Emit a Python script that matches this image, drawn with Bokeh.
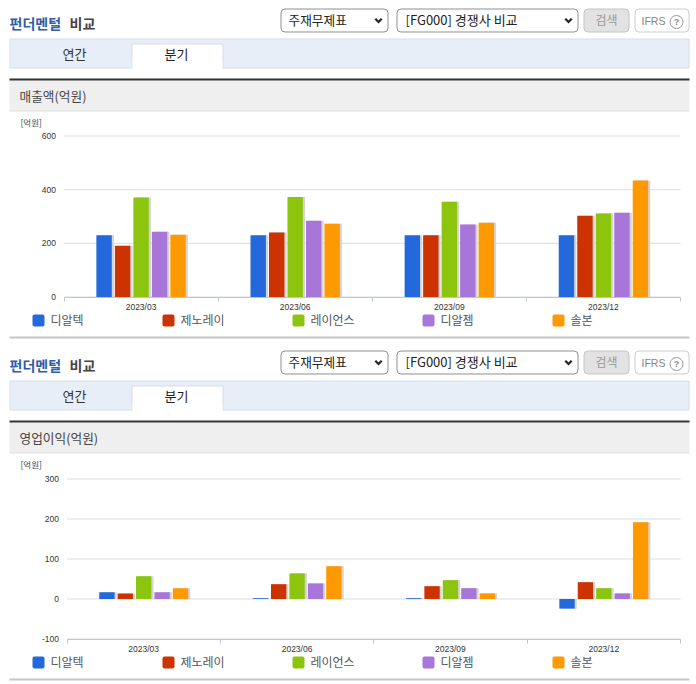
from bokeh.plotting import figure
from bokeh.layouts import column
from bokeh.models import (BoxAnnotation, ColumnDataSource, FixedTicker, Label,
                          LinearAxis, PolyAnnotation, Range1d)
from bokeh.transform import dodge
from bokeh.embed import file_html
from bokeh.resources import INLINE

quarters = ["2023/03", "2023/06", "2023/09", "2023/12"]
companies = ["디알텍", "제노레이", "레이언스", "디알젬", "솔본"]
colors = ["#2469dc", "#cc3300", "#8cc40e", "#a876d8", "#ff9900"]

sales_dialtek = [230, 230, 230, 230]
sales_genoray = [191, 240, 230, 303]
sales_rayence = [371, 373, 355, 311]
sales_drgem = [243, 284, 270, 314]
sales_solborn = [232, 273, 277, 434]

profit_dialtek = [17, 2, 2, -24]
profit_genoray = [14, 37, 32, 42]
profit_rayence = [57, 64, 47, 27]
profit_drgem = [17, 39, 27, 14]
profit_solborn = [27, 82, 14, 192]

sales_ticks = [0, 200, 400, 600]
profit_ticks = [-100, 0, 100, 200, 300]

KR = "Noto Sans CJK KR"
LAT = "Liberation Sans"
BAR_STEP = 0.12
BAR_WIDTH = 0.1
WIDTH = 690


def text(p, x, y, s, size, color="#444444", font=KR, align="left", style="normal"):
    dy = 1 if font == KR else 0
    p.add_layout(Label(x=x, y=y - dy, x_units="canvas", y_units="canvas", text=s,
                       text_font=font, text_font_size=f"{size}px", text_color=color,
                       text_align=align, text_baseline="middle", text_font_style=style))


def box(p, x0, y0, x1, y1, fill=None, line=None, radius=0):
    p.add_layout(BoxAnnotation(left=x0, right=x1, top=y0, bottom=y1,
                               left_units="canvas", right_units="canvas",
                               top_units="canvas", bottom_units="canvas",
                               fill_color=fill, fill_alpha=1 if fill else 0,
                               line_color=line, line_alpha=1 if line else 0, line_width=1,
                               border_radius=radius, level="underlay"))


def chevron(p, x, y):
    xs = [x, x + 1.6, x + 4, x + 6.4, x + 8, x + 4]
    ys = [y + 1.6, y, y + 2.6, y, y + 1.6, y + 5.6]
    p.add_layout(PolyAnnotation(xs=xs, ys=ys, xs_units="canvas", ys_units="canvas",
                                fill_color="#222222", fill_alpha=1, line_alpha=0))


def chrome(p, heading):
    text(p, 9, 23, "펀더멘털", 14, "#2f5cab", style="bold")
    text(p, 69, 23, "비교", 14, "#444444", style="bold")
    box(p, 280.5, 8.5, 387.5, 31.5, "#ffffff", "#8f8f8f", 4)
    text(p, 288, 20, "주재무제표", 12.7, "#222222")
    chevron(p, 374, 17.5)
    box(p, 396.5, 8.5, 577.5, 31.5, "#ffffff", "#8f8f8f", 4)
    text(p, 405, 20, "[FG000] 경쟁사 비교", 13, "#222222")
    chevron(p, 564, 17.5)
    box(p, 583.5, 8.5, 628.5, 31.5, "#e2e2e2", "#c4c4c4", 4)
    text(p, 606, 19.5, "검색", 12, "#999999", align="center")
    box(p, 634.5, 8.5, 688.5, 31.5, "#ffffff", "#cccccc", 4)
    text(p, 641, 20, "IFRS", 10.5, "#888888", font=LAT)
    box(p, 669.5, 15, 682.5, 28, "#ffffff", "#999999", 7)
    text(p, 676, 21.5, "?", 9, "#888888", font=LAT, align="center", style="bold")

    box(p, 9.5, 38.5, 688.5, 67.5, "#e8eef8", "#d5deea")
    box(p, 131.5, 43.5, 222.5, 67.9, "#ffffff", "#d5deea")
    box(p, 132, 60, 222, 68.5, "#ffffff", None)
    text(p, 74, 54, "연간", 13, "#333333", align="center")
    text(p, 176, 54, "분기", 13, "#222222", align="center")

    box(p, 9, 80, 689, 110.5, "#efefef", None)
    box(p, 9, 110, 689, 111, "#e0e0e0", None)
    box(p, 9, 78, 689, 80, "#333333", None)
    text(p, 19, 95.5, heading, 12.7, "#444444")
    text(p, 20, 122.5, "[억원]", 8.5, "#444444")

    for i, name in enumerate(companies):
        x = 32 + 130 * i
        box(p, x, 314, x + 12, 326, colors[i], None, 2)
        text(p, x + 18, 320, name, 12, "#555555")
    box(p, 9, 336, 689, 338, "#c6c6c6", None)


def chart(series, ticks, height, plot_top, plot_bottom, plot_left, plot_right, heading):
    n = len(quarters)
    ymin, ymax = min(ticks), max(ticks)
    per_y = (ymax - ymin) / (plot_bottom - plot_top)
    per_x = n / (plot_right - plot_left)
    centres = [i + 0.5 for i in range(n)]
    data = {"x": centres}
    data.update({f"s{i}": v for i, v in enumerate(series)})
    source = ColumnDataSource(data)

    # The frame fills the whole canvas so that the surrounding page furniture is not clipped;
    # the ranges are chosen so that the chart proper lands in its place inside it.
    p = figure(x_range=Range1d(-plot_left * per_x, n + (WIDTH - plot_right) * per_x),
               y_range=Range1d(ymin - (height - plot_bottom) * per_y, ymax + plot_top * per_y),
               width=WIDTH, height=height, output_backend="svg", toolbar_location=None,
               x_axis_location=None, y_axis_location=None,
               min_border_left=0, min_border_right=0, min_border_top=0, min_border_bottom=0,
               outline_line_color=None, background_fill_color="#ffffff",
               border_fill_color="#ffffff")
    p.grid.visible = False
    chrome(p, heading)

    p.segment(x0=[0] * len(ticks), x1=[n] * len(ticks), y0=ticks, y1=ticks,
              line_color="#d9dde3", line_width=1)
    for i in range(len(series)):
        off = (i - 2) * BAR_STEP
        p.vbar(x=dodge("x", off + 0.014), top=f"s{i}", bottom=0,
               width=BAR_WIDTH, source=source, fill_color="#d4d4d4", line_color=None)
        p.vbar(x=dodge("x", off), top=f"s{i}", bottom=0,
               width=BAR_WIDTH, source=source, fill_color=colors[i], line_color=None)

    y_axis = LinearAxis(fixed_location=0, ticker=FixedTicker(ticks=ticks),
                        major_label_overrides={t: str(t) for t in ticks},
                        axis_line_color=None, major_tick_line_color=None,
                        minor_tick_line_color=None, major_tick_in=0, major_tick_out=0,
                        major_label_standoff=8, major_label_text_font=LAT,
                        major_label_text_font_size="8.5px", major_label_text_color="#333333")
    p.add_layout(y_axis, "left")

    x_axis = LinearAxis(fixed_location=ymin, ticker=FixedTicker(ticks=centres),
                        major_label_overrides=dict(zip(centres, quarters)),
                        axis_line_color=None, major_tick_line_color=None,
                        minor_tick_line_color=None, major_tick_in=0, major_tick_out=0,
                        major_label_standoff=5, major_label_text_font=LAT,
                        major_label_text_font_size="8.5px", major_label_text_color="#333333")
    p.add_layout(x_axis, "below")

    edge = LinearAxis(fixed_location=ymin, ticker=FixedTicker(ticks=list(range(n + 1))),
                      bounds=(0, n),
                      axis_line_color="#b9c6d8", major_tick_line_color="#b9c6d8",
                      major_tick_in=0, major_tick_out=4, minor_tick_line_color=None,
                      major_label_text_color=None, major_label_text_font_size="1px")
    p.add_layout(edge, "below")
    return p


p1 = chart([sales_dialtek, sales_genoray, sales_rayence, sales_drgem, sales_solborn],
           sales_ticks, 342, 135.5, 296.5, 63.5, 680, "매출액(억원)")
p2 = chart([profit_dialtek, profit_genoray, profit_rayence, profit_drgem, profit_solborn],
           profit_ticks, 340, 136.5, 296.5, 66.5, 680, "영업이익(억원)")

page = column(p1, p2, spacing=0, height=682)
open("out.html", "w").write(file_html(page, INLINE))
